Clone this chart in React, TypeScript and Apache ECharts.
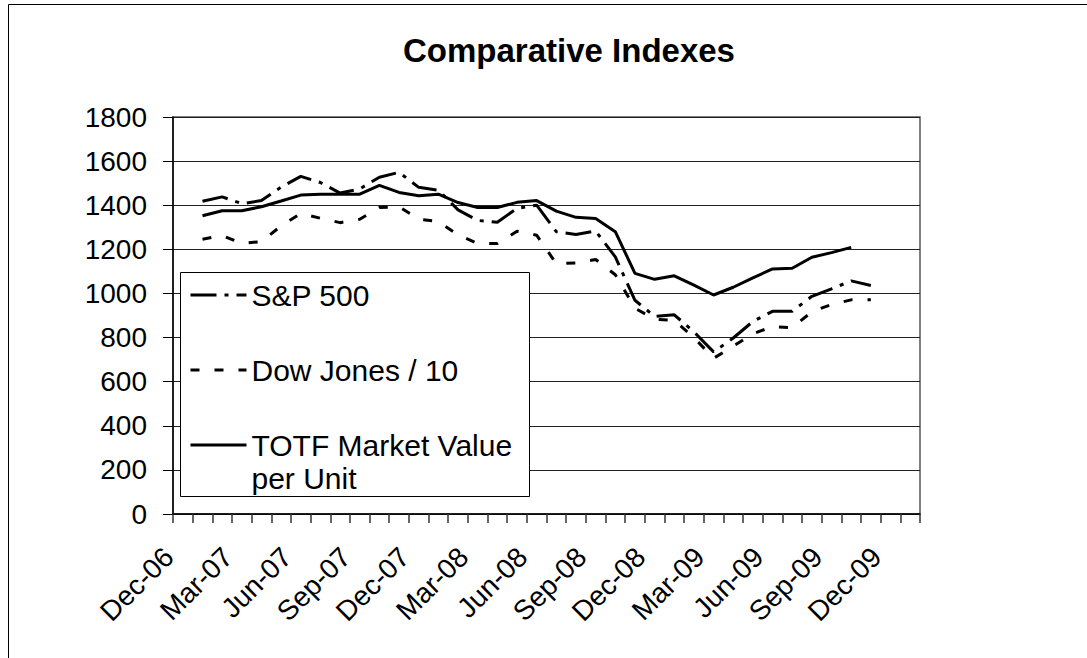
import React, { useEffect, useRef } from "react";
import * as echarts from "echarts";

const FONT = "'Liberation Sans', Arial, Helvetica, sans-serif";

// Monthly bands on the date axis (each band is one month)
const axisMonths = [
  "Dec-06", "Jan-07", "Feb-07", "Mar-07", "Apr-07", "May-07", "Jun-07", "Jul-07", "Aug-07", "Sep-07",
  "Oct-07", "Nov-07", "Dec-07", "Jan-08", "Feb-08", "Mar-08", "Apr-08", "May-08", "Jun-08", "Jul-08",
  "Aug-08", "Sep-08", "Oct-08", "Nov-08", "Dec-08", "Jan-09", "Feb-09", "Mar-09", "Apr-09", "May-09",
  "Jun-09", "Jul-09", "Aug-09", "Sep-09", "Oct-09", "Nov-09", "Dec-09", "Jan-10",
];

// Tick labels, every third month
const tickLabels = [
  "Dec-06", "Mar-07", "Jun-07", "Sep-07", "Dec-07", "Mar-08", "Jun-08",
  "Sep-08", "Dec-08", "Mar-09", "Jun-09", "Sep-09", "Dec-09",
];

const dataMonths = [
  "Jan-07", "Feb-07", "Mar-07", "Apr-07", "May-07", "Jun-07", "Jul-07", "Aug-07", "Sep-07", "Oct-07",
  "Nov-07", "Dec-07", "Jan-08", "Feb-08", "Mar-08", "Apr-08", "May-08", "Jun-08", "Jul-08", "Aug-08",
  "Sep-08", "Oct-08", "Nov-08", "Dec-08", "Jan-09", "Feb-09", "Mar-09", "Apr-09", "May-09", "Jun-09",
  "Jul-09", "Aug-09", "Sep-09", "Oct-09", "Nov-09",
];

const sp500 = [
  1418, 1438, 1407, 1421, 1482, 1531, 1503, 1455, 1474, 1527,
  1549, 1481, 1468, 1379, 1331, 1323, 1386, 1400, 1280, 1267,
  1283, 1166, 969, 896, 903, 826, 735, 798, 873, 919,
  919, 987, 1021, 1057, 1036,
];

const dowDiv10 = [
  1246, 1262, 1227, 1235, 1306, 1363, 1341, 1321, 1336, 1390,
  1393, 1337, 1326, 1265, 1227, 1226, 1282, 1264, 1135, 1138,
  1154, 1085, 933, 883, 878, 800, 706, 761, 817, 850,
  845, 917, 950, 971, 971,
];

const totf = [
  1352, 1375, 1375, 1393, 1419, 1446, 1450, 1450, 1450, 1490,
  1458, 1443, 1450, 1412, 1390, 1390, 1413, 1421, 1373, 1345,
  1340, 1280, 1091, 1064, 1080, 1038, 993, 1028, 1071, 1111,
  1114, 1164, 1185, 1209,
];

const seriesNames = ["S&P 500", "Dow Jones / 10", "TOTF Market Value per Unit"];

function toPoints(values: number[]) {
  return values.map((v, i) => [axisMonths.indexOf(dataMonths[i]) + 0.5, v]);
}

export default function App() {
  const ref = useRef<HTMLDivElement>(null);

  useEffect(() => {
    document.body.style.margin = "0";
    if (!ref.current) return;
    const chart = echarts.init(ref.current, undefined, { renderer: "svg" });

    const legendText = { fontFamily: FONT, fontSize: 30, lineHeight: 33, color: "#000" };
    const legendBase = {
      orient: "vertical",
      left: 189,
      padding: 0,
      itemWidth: 56,
      itemHeight: 14,
      itemGap: 0,
      selectedMode: false,
      lineStyle: { width: 3 },
      itemStyle: { opacity: 0, borderWidth: 0 },
      textStyle: legendText,
      z: 6,
    };

    const option: any = {
      animation: false,
      backgroundColor: "#fff",
      title: {
        text: "Comparative Indexes",
        left: 398,
        top: 29,
        textStyle: { fontFamily: FONT, fontSize: 33, fontWeight: "bold", color: "#000" },
      },
      grid: {
        left: 173,
        right: 167,
        top: 117,
        bottom: 144,
        show: true,
        borderColor: "#555",
        borderWidth: 1.5,
      },
      xAxis: {
        type: "value",
        min: 0,
        max: axisMonths.length,
        interval: 1,
        axisLine: { onZero: false, lineStyle: { color: "#000", width: 1.5 } },
        axisTick: { show: true, length: 9, lineStyle: { color: "#333", width: 1.5 } },
        splitLine: { show: false },
        axisLabel: {
          rotate: 45,
          margin: 34,
          padding: [0, 6, 0, 0],
          fontFamily: FONT,
          fontSize: 28,
          color: "#000",
          showMinLabel: true,
          showMaxLabel: true,
          formatter: (v: number) => {
            const k = Math.round(v);
            return k % 3 === 0 && tickLabels[k / 3] ? tickLabels[k / 3] : "";
          },
        },
      },
      yAxis: {
        type: "value",
        min: 0,
        max: 1800,
        interval: 200,
        axisLine: { show: true, lineStyle: { color: "#000", width: 1.5 } },
        axisTick: { show: true, length: 10, lineStyle: { color: "#000", width: 1 } },
        splitLine: { show: true, lineStyle: { color: "#222", width: 1 } },
        axisLabel: {
          margin: 26,
          fontFamily: FONT,
          fontSize: 28,
          color: "#000",
          formatter: (v: number) => String(v),
        },
      },
      legend: [
        { ...legendBase, top: 278.5, data: [seriesNames[0]] },
        { ...legendBase, top: 353.5, data: [seriesNames[1]] },
        {
          ...legendBase,
          top: 395.5,
          data: [seriesNames[2]],
          formatter: () => "\nTOTF Market Value\nper Unit",
        },
      ],
      graphic: [
        {
          type: "rect",
          silent: true,
          z: 0,
          shape: { x: 8.5, y: 4.5, width: 1300, height: 1000 },
          style: { fill: "none", stroke: "#000", lineWidth: 1 },
        },
        {
          type: "rect",
          silent: true,
          z: 5,
          shape: { x: 180.5, y: 272.5, width: 349, height: 224 },
          style: { fill: "#fff", stroke: "#000", lineWidth: 1 },
        },
      ],
      series: [
        {
          name: seriesNames[0],
          type: "line",
          data: toPoints(sp500),
          symbol: "none",
          silent: true,
          lineStyle: { color: "#000", width: 3, type: [26, 8, 4, 8] },
          itemStyle: { color: "#000" },
        },
        {
          name: seriesNames[1],
          type: "line",
          data: toPoints(dowDiv10),
          symbol: "none",
          silent: true,
          lineStyle: { color: "#000", width: 3, type: [9, 15] },
          itemStyle: { color: "#000" },
        },
        {
          name: seriesNames[2],
          type: "line",
          data: toPoints(totf),
          symbol: "none",
          silent: true,
          lineStyle: { color: "#000", width: 3, type: "solid" },
          itemStyle: { color: "#000" },
        },
      ],
    };

    chart.setOption(option);
    return () => chart.dispose();
  }, []);

  return <div ref={ref} style={{ width: 1087, height: 658 }} />;
}
